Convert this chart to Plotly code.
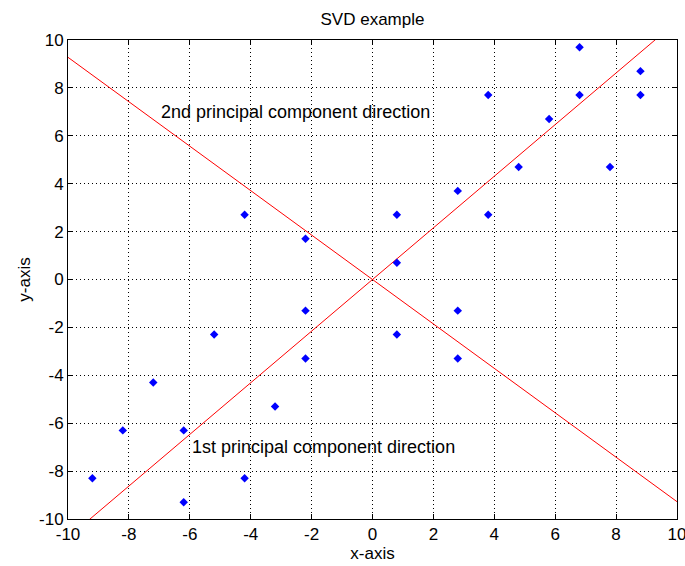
import numpy as np
import plotly.graph_objects as go

# Centered sample points
x_pts = [-4.2, -2.2, 6.8, 8.8, 3.8, 6.8, 8.8, 5.8, 4.8, 7.8, 2.8, 0.8, 3.8, 0.8,
         -2.2, -5.2, -2.2, -7.2, -3.2, -8.2, -6.2, -9.2, -4.2, -6.2, 0.8, 2.8, 2.8]
y_pts = [2.7, 1.7, 9.7, 8.7, 7.7, 7.7, 7.7, 6.7, 4.7, 4.7, 3.7, 2.7, 2.7, 0.7,
         -1.3, -2.3, -3.3, -4.3, -5.3, -6.3, -6.3, -8.3, -8.3, -9.3, -2.3, -1.3, -3.3]

# Principal directions (unit vectors)
pc1 = np.array([0.680, 0.733])
pc2 = np.array([-0.733, 0.680])
line_x = np.array([-10.0, 10.0])

ticks = list(range(-10, 11, 2))
FONT = "Liberation Sans, Arial, Helvetica, sans-serif"

fig = go.Figure()
fig.add_trace(go.Scatter(x=line_x, y=line_x * pc1[1] / pc1[0], mode="lines",
                         line=dict(color="#ff0000", width=1), hoverinfo="skip"))
fig.add_trace(go.Scatter(x=line_x, y=line_x * pc2[1] / pc2[0], mode="lines",
                         line=dict(color="#ff0000", width=1), hoverinfo="skip"))
fig.add_trace(go.Scatter(x=x_pts, y=y_pts, mode="markers",
                         marker=dict(symbol="diamond", size=6.5, color="#0000ff",
                                     line=dict(width=0))))

fig.add_annotation(x=-7, y=7, text="2nd principal component direction",
                   xanchor="left", yanchor="middle", showarrow=False,
                   font=dict(size=18, color="black", family=FONT))
fig.add_annotation(x=-6, y=-7, text="1st principal component direction",
                   xanchor="left", yanchor="middle", showarrow=False,
                   font=dict(size=18, color="black", family=FONT))

axis_common = dict(
    range=[-10, 10], tickvals=ticks, ticktext=[str(t) for t in ticks],
    showgrid=True, gridcolor="black", gridwidth=1, griddash="1px,3px",
    zeroline=False, showline=True, linecolor="black", linewidth=1,
    mirror="allticks", ticks="inside", ticklen=5, tickcolor="black",
    ticklabeloverflow="allow", automargin=False,
    tickfont=dict(size=17, color="black", family=FONT),
)

fig.update_layout(
    width=685, height=566,
    margin=dict(l=68, r=8, t=40, b=47, autoexpand=False),
    paper_bgcolor="white", plot_bgcolor="white",
    showlegend=False,
    title=dict(text="SVD example", x=372.5 / 685, xanchor="center",
               y=1 - 19 / 566, yanchor="middle",
               font=dict(size=17, color="black", family=FONT)),
    xaxis=dict(axis_common, title=dict(text="x-axis", standoff=2,
                                       font=dict(size=17, color="black", family=FONT))),
    yaxis=dict(axis_common, title=dict(text="y-axis", standoff=4,
                                       font=dict(size=17, color="black", family=FONT))),
)

fig.write_html("out.html")
